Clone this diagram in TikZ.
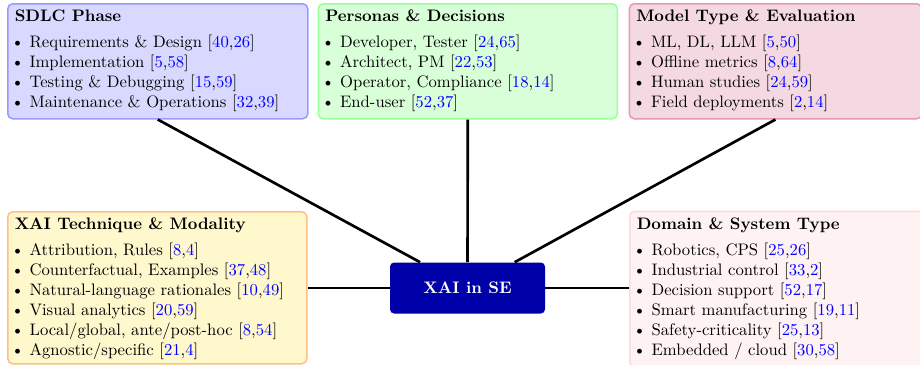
\documentclass[tikz,border=0pt]{standalone}
\usepackage{xcolor}
\begin{document}
\begin{tikzpicture}[x=0.6pt,y=-0.6pt,
  panel/.style={draw, line width=0.9pt, rounded corners=3pt, anchor=north west,
    inner xsep=4.2pt, inner ysep=0pt, text=black},
  link/.style={draw=black, line width=1.6pt},
  core/.style={fill=blue!66!black, draw=none, rounded corners=2.5pt, text=white,
    font=\bfseries, minimum width=93pt, minimum height=30.6pt, inner sep=0pt}]
\newcommand\cit[1]{\textcolor{blue}{#1}}
\newcommand\itm{\hspace*{-2.2pt}\textbullet\ }
\newcommand\pbody[3]{\parbox[c][#1][t]{#2}{\vspace*{3.6pt}#3}}
\useasboundingbox (0,0) rectangle (920,364);

\node[panel, fill=blue!15, draw=blue!40] (sdlc) at (7,3)
 {\pbody{69pt}{171.6pt}{\textbf{SDLC Phase}\\[3.6pt]
  \itm Requirements \& Design [\cit{40},\cit{26}]\\
  \itm Implementation [\cit{5},\cit{58}]\\
  \itm Testing \& Debugging [\cit{15},\cit{59}]\\
  \itm Maintenance \& Operations [\cit{32},\cit{39}]}};

\node[panel, fill=green!15, draw=green!40] (pers) at (317.5,3)
 {\pbody{69pt}{171pt}{\textbf{Personas \& Decisions}\\[3.6pt]
  \itm Developer, Tester [\cit{24},\cit{65}]\\
  \itm Architect, PM [\cit{22},\cit{53}]\\
  \itm Operator, Compliance [\cit{18},\cit{14}]\\
  \itm End-user [\cit{52},\cit{37}]}};

\node[panel, fill=purple!15, draw=purple!40] (model) at (628.5,3)
 {\pbody{69pt}{167pt}{\textbf{Model Type \& Evaluation}\\[3.6pt]
  \itm ML, DL, LLM [\cit{5},\cit{50}]\\
  \itm Offline metrics [\cit{8},\cit{64}]\\
  \itm Human studies [\cit{24},\cit{59}]\\
  \itm Field deployments [\cit{2},\cit{14}]}};

\node[panel, fill={rgb,255:red,255;green,248;blue,204}, draw=orange!50] (tech) at (7,211)
 {\pbody{91.2pt}{171pt}{\textbf{XAI Technique \& Modality}\\[3.6pt]
  \itm Attribution, Rules [\cit{8},\cit{4}]\\
  \itm Counterfactual, Examples [\cit{37},\cit{48}]\\
  \itm Natural-language rationales [\cit{10},\cit{49}]\\
  \itm Visual analytics [\cit{20},\cit{59}]\\
  \itm Local/global, ante/post-hoc [\cit{8},\cit{54}]\\
  \itm Agnostic/specific [\cit{21},\cit{4}]}};

\node[panel, fill=red!5, draw=red!15] (dom) at (629,210.5)
 {\pbody{93.6pt}{168pt}{\textbf{Domain \& System Type}\\[3.6pt]
  \itm Robotics, CPS [\cit{25},\cit{26}]\\
  \itm Industrial control [\cit{33},\cit{2}]\\
  \itm Decision support [\cit{52},\cit{17}]\\
  \itm Smart manufacturing [\cit{19},\cit{11}]\\
  \itm Safety-criticality [\cit{25},\cit{13}]\\
  \itm Embedded / cloud [\cit{30},\cit{58}]}};

\node[core] (xai) at (467.5,288) {XAI in SE};

\draw[link] (sdlc.south) -- (xai);
\draw[link] (pers.south) -- (xai);
\draw[link] (model.south) -- (xai);
\draw[link] (xai.west) -- (xai.west -| tech.east);
\draw[link] (xai.east) -- (xai.east -| dom.west);
\end{tikzpicture}
\end{document}
